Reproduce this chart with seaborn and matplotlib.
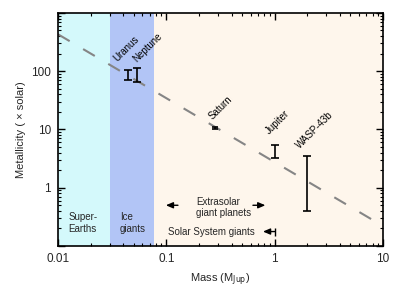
import numpy as np
import pandas as pd
import matplotlib
matplotlib.use("Agg")
import matplotlib.pyplot as plt
import matplotlib.ticker as mticker
import seaborn as sns

# ---- data ----
planets = ["Uranus", "Neptune", "Saturn", "Jupiter", "WASP-43b"]
mass = [0.044, 0.054, 0.28, 1.0, 2.0]
z_low = [70, 66, 10.0, 3.3, 0.40]
z_high = [104, 112, 11.2, 5.4, 3.5]

trend_mass = [0.01, 10]
trend_z = [430, 0.22]

region_edges = [0.01, 0.030, 0.077, 10]
region_colors = ["#d4f9fb", "#b2c5f6", "#fef6ec"]

sns.set_theme(style="ticks")
plt.rcParams["font.family"] = ["Liberation Sans", "DejaVu Sans"]

fig = plt.figure(figsize=(4, 3), dpi=100)
ax = fig.add_axes([0.145, 0.18, 0.8125, 0.777])

for i, c in enumerate(region_colors):
    ax.axvspan(region_edges[i], region_edges[i + 1], color=c, lw=0, zorder=0)

df_line = pd.DataFrame({"mass": trend_mass, "z": trend_z})
sns.lineplot(data=df_line, x="mass", y="z", ax=ax, color="#858585",
             lw=1.5, zorder=2)
ax.lines[-1].set_dashes([6.5, 7.5])

for m, lo, hi in zip(mass, z_low, z_high):
    mid = np.sqrt(lo * hi)
    cs = 2 if hi / lo < 1.3 else 3
    ax.errorbar([m], [mid], yerr=[[mid - lo], [hi - mid]],
                fmt="none", ecolor="black", elinewidth=1.2, capsize=cs, capthick=1.2, zorder=3)

ax.set_xscale("log")
ax.set_yscale("log")
ax.set_xlim(0.01, 10)
ax.set_ylim(0.1, 1000)

ax.yaxis.set_major_locator(mticker.FixedLocator([0.1, 1, 10, 100, 1000]))
ax.yaxis.set_major_formatter(mticker.FixedFormatter(["", "1", "10", "100", ""]))
ax.yaxis.set_minor_locator(mticker.LogLocator(base=10, subs=np.arange(2, 10)))
ax.yaxis.set_minor_formatter(mticker.NullFormatter())
ax.xaxis.set_major_locator(mticker.FixedLocator([0.01, 0.1, 1, 10]))
ax.xaxis.set_major_formatter(mticker.FixedFormatter(["0.01", "0.1", "1", "10"]))
ax.xaxis.set_minor_locator(mticker.LogLocator(base=10, subs=np.arange(2, 10)))
ax.xaxis.set_minor_formatter(mticker.NullFormatter())

ax.tick_params(which="both", direction="in", top=True, right=True, color="black")
ax.tick_params(which="major", length=5, width=1, labelsize=8.5, pad=5)
ax.tick_params(which="minor", length=2.5, width=0.8)
for s in ax.spines.values():
    s.set_color("black")
    s.set_linewidth(1.2)

ax.set_xlabel("Mass (M$_{\\mathrm{Jup}}$)", fontsize=8, labelpad=5)
ax.set_ylabel("Metallicity ( × solar)", fontsize=8, labelpad=4)

lab_pos = [(0.036, 135), (0.055, 135), (0.275, 14.0), (0.92, 7.6), (1.75, 4.3)]
for name, (x, y) in zip(planets, lab_pos):
    ax.text(x, y, name, rotation=45, rotation_mode="anchor", ha="left", va="bottom",
            fontsize=7, color="black", zorder=4)

ax.text(0.0124, 0.25, "Super-\nEarths", fontsize=7, ha="left", va="center", linespacing=1.2)
ax.text(0.0374, 0.25, "Ice\ngiants", fontsize=7, ha="left", va="center", linespacing=1.2)
ax.text(0.188, 0.46, "Extrasolar\ngiant planets", fontsize=7, ha="left", va="center", linespacing=1.2)
ax.text(0.104, 0.177, "Solar System giants", fontsize=7, ha="left", va="center")

arr = dict(arrowstyle="-|>,head_length=0.35,head_width=0.15", color="black", lw=1, shrinkA=0, shrinkB=0)
ax.annotate("", xy=(0.099, 0.5), xytext=(0.128, 0.5), arrowprops=arr)
ax.annotate("", xy=(0.82, 0.5), xytext=(0.63, 0.5), arrowprops=arr)
ax.annotate("", xy=(0.78, 0.177), xytext=(1.0, 0.177), arrowprops=arr)
ax.plot([1.0], [0.177], marker="|", color="black", ms=6, mew=1)

fig.savefig("out.png", dpi=100)
